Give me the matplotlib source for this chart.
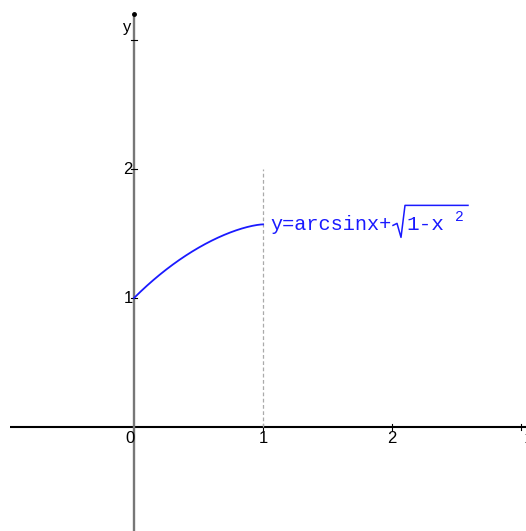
import numpy as np
import matplotlib
matplotlib.use("Agg")
import matplotlib.pyplot as plt
from matplotlib.lines import Line2D
from matplotlib.transforms import offset_copy

# axis window and ticks
x_min, x_max = -1.039, 3.039
y_min, y_max = -0.806, 3.310
x_ticks = [1, 2, 3]
y_ticks = [1, 2, 3]
x_labels = ['0', '1', '2']
y_labels = ['1', '2']

# curve y = arcsin(x) + sqrt(1 - x^2) on [0, 1]
xs = np.linspace(0, 1, 300)
ys = np.arcsin(xs) + np.sqrt(1 - xs**2)
x_end = 1.0
y_end = np.arcsin(x_end) + np.sqrt(1 - x_end**2)

blue = '#1a1aff'

fig = plt.figure(figsize=(5.26, 5.31), dpi=100)
ax = fig.add_axes([0, 0, 1, 1])
ax.set_xlim(x_min, x_max)
ax.set_ylim(y_min, y_max)
ax.axis('off')

# axes lines
ax.plot([-0.961, x_max], [0, 0], color='black', lw=1.5, solid_capstyle='butt')
ax.plot([0, 0], [y_min, 3.2], color='#777777', lw=1.7, solid_capstyle='butt')
ax.plot([0], [3.2], 'o', color='black', ms=2.5)

t = 0.02
for xt in x_ticks:
    ax.plot([xt, xt], [-t, t], color='black', lw=0.8)
for yt in y_ticks:
    ax.plot([-t, t], [yt, yt], color='black', lw=0.8)

# dashed guide at x = 1
ax.plot([x_end, x_end], [0, 2], color='#aaaaaa', lw=0.9, ls=(0, (3, 2)))

ax.plot(xs, ys, color=blue, lw=1.3)

tick_font = dict(family='Liberation Sans', fontsize=12, color='black')
ax.text(-0.035, -0.03, x_labels[0], ha='center', va='top', **tick_font)
ax.text(1.0, -0.03, x_labels[1], ha='center', va='top', **tick_font)
ax.text(2.0, -0.03, x_labels[2], ha='center', va='top', **tick_font)
ax.text(-0.008, 1.0, y_labels[0], ha='right', va='center', **tick_font)
ax.text(-0.008, 2.0, y_labels[1], ha='right', va='center', **tick_font)
ax.text(-0.02, 3.1, 'y', ha='right', va='center', **tick_font)
ax.text(3.03, -0.03, 'x', ha='left', va='top', **tick_font)


# formula label, laid out in pixel offsets from the curve's end point
def at(dx, dy):
    return offset_copy(ax.transData, fig=fig, x=dx, y=dy, units='dots')


mono = dict(family='Liberation Mono', color=blue, va='baseline', ha='left')
ax.text(x_end, y_end, 'y=arcsinx+', fontsize=14.6, transform=at(7, -6), **mono)
ax.text(x_end, y_end, '1-x', fontsize=15.2, transform=at(143, -6), **mono)
ax.text(x_end, y_end, '2', fontsize=10.5, transform=at(192, 3), **mono)

# radical sign over 1-x^2
rad_x = [130, 134, 138, 142, 205]
rad_y = [-1, 1, -13, 19, 19]
x0, y0 = ax.transData.transform((x_end, y_end))
fig.add_artist(Line2D([x0 + dx for dx in rad_x], [y0 + dy for dy in rad_y],
                      color=blue, lw=1.1, transform=None))

fig.savefig('out.png', dpi=100)
